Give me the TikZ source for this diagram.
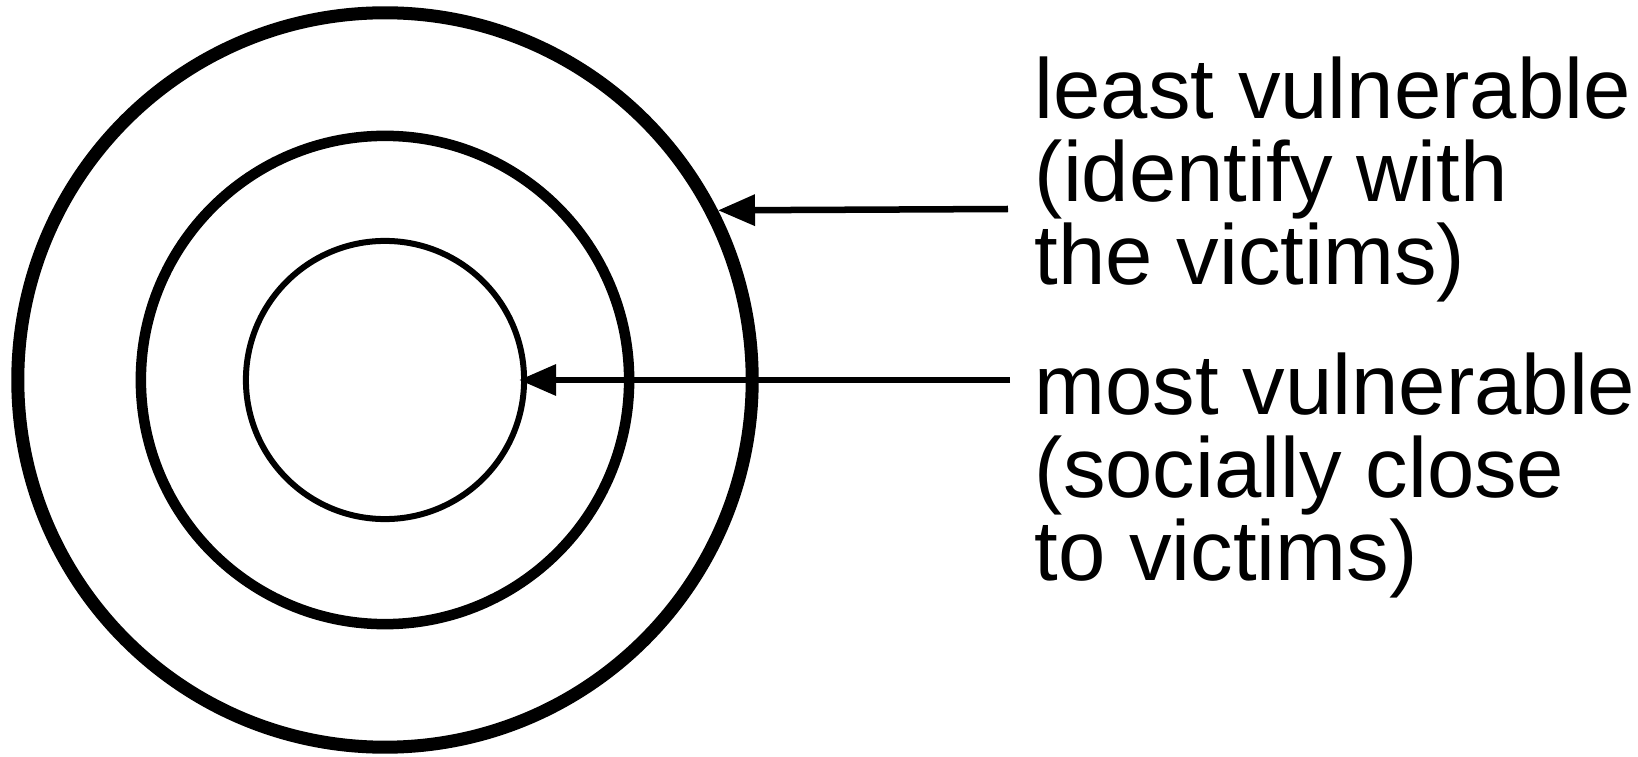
\documentclass[tikz,border=0pt]{standalone}
\usepackage{fontspec}
\setmainfont{Liberation Sans}
\usetikzlibrary{arrows.meta}
\begin{document}
\begin{tikzpicture}
    [x = 0.01cm, y = 0.01cm,
     ring/.style = {draw, circle, inner sep = 0},
     pointer/.style = {-{Triangle[length = 3.7mm, width = 3mm]}, line width = 0.65mm},
     note/.style = {anchor = north west, inner sep = 0, align = left,
       font = \fontsize{24.2}{23.6}\selectfont}]
    \useasboundingbox (0, 0) rectangle (1638, 757);
    \node[ring, line width = 1.3mm, minimum size = 7.34cm] (outer) at (385, 377) {};
    \node[ring, line width = 1.05mm, minimum size = 4.88cm] (middle) at (385, 377) {};
    \node[ring, line width = 0.6mm, minimum size = 2.78cm] (inner) at (385, 377) {};
    \node[note] (least) at (1034, 701) {least vulnerable\\(identify with\\the victims)};
    \node[note] (most) at (1034, 405) {most vulnerable\\(socially close\\to victims)};
    \coordinate (a1) at (1008, 548);
    \coordinate (a2) at (1010, 377);
    \draw[pointer] (a1) -- (outer.27.25); \draw[pointer, shorten >= -0.8mm]
    (a2) -- (inner.east);
    \end{tikzpicture}
\end{document}
